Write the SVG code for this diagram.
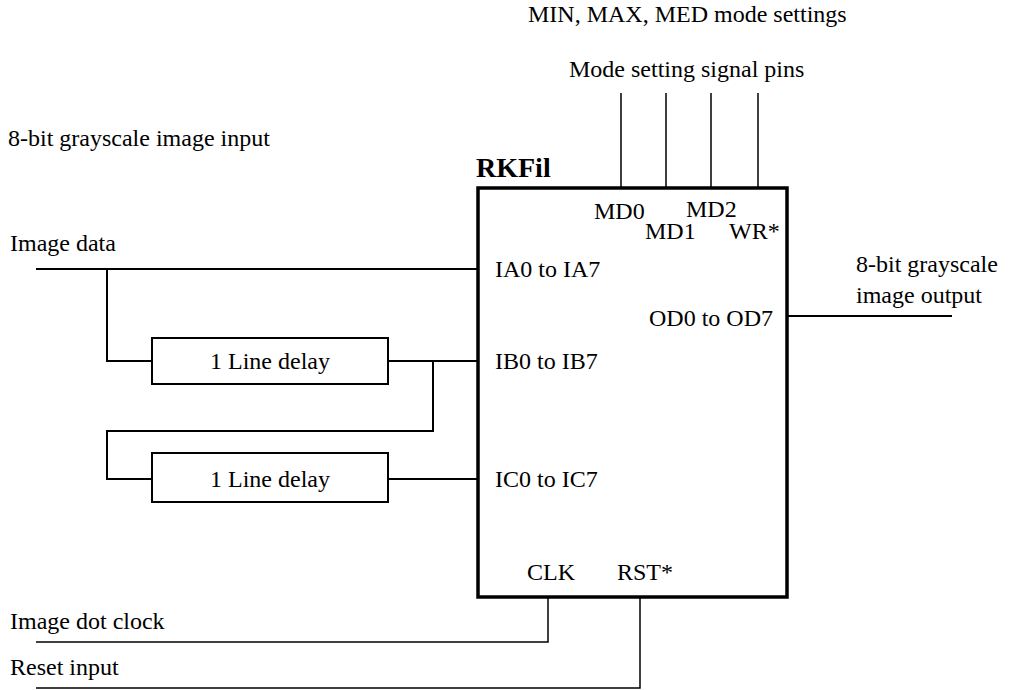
<svg xmlns="http://www.w3.org/2000/svg" width="1016" height="690" viewBox="0 0 1016 690">
<style>
text{font-family:"Liberation Serif","Times New Roman",serif;font-size:24px;fill:#000}
.b{font-weight:bold;font-size:28px}
.w{fill:none;stroke:#000;stroke-width:2}
.t{fill:none;stroke:#000;stroke-width:1.5}
.box{fill:#fff;stroke:#000;stroke-width:2}
.chip{fill:#fff;stroke:#000;stroke-width:3.5}
</style>
<rect width="1016" height="690" fill="#fff"/>
<g id="labels">
<text x="528" y="22">MIN, MAX, MED mode settings</text>
<text x="569" y="77">Mode setting signal pins</text>
<text x="8" y="146">8-bit grayscale image input</text>
<text x="10" y="251">Image data</text>
<text x="856" y="272">8-bit grayscale</text>
<text x="856" y="303">image output</text>
<text x="10" y="629">Image dot clock</text>
<text x="10" y="675">Reset input</text>
</g>
<g id="connectors">
<path class="t" d="M621 93V188M666 93V188M711 93V188M758 93V188"/>
<path class="w" d="M36 269H478M107 269V361H152M388 361H478M433 361V431H107V479H152M388 479H478"/>
<path class="w" d="M788 316H952"/>
<path class="t" d="M548 597V642H36M640 597V688H36"/>
</g>
<g id="rkfil">
<rect class="chip" x="478" y="188" width="309" height="409"/>
<text class="b" x="476" y="177">RKFil</text>
<text x="594" y="219">MD0</text>
<text x="645" y="239">MD1</text>
<text x="686" y="217">MD2</text>
<text x="729" y="239">WR*</text>
<text x="495" y="277">IA0 to IA7</text>
<text x="495" y="369">IB0 to IB7</text>
<text x="495" y="487">IC0 to IC7</text>
<text x="773" y="326" text-anchor="end">OD0 to OD7</text>
<text x="527" y="580">CLK</text>
<text x="617" y="580">RST*</text>
</g>
<g id="delay1">
<rect class="box" x="152" y="338" width="236" height="46"/>
<text x="270" y="369" text-anchor="middle">1 Line delay</text>
</g>
<g id="delay2">
<rect class="box" x="152" y="453" width="236" height="49"/>
<text x="270" y="487" text-anchor="middle">1 Line delay</text>
</g>
</svg>
